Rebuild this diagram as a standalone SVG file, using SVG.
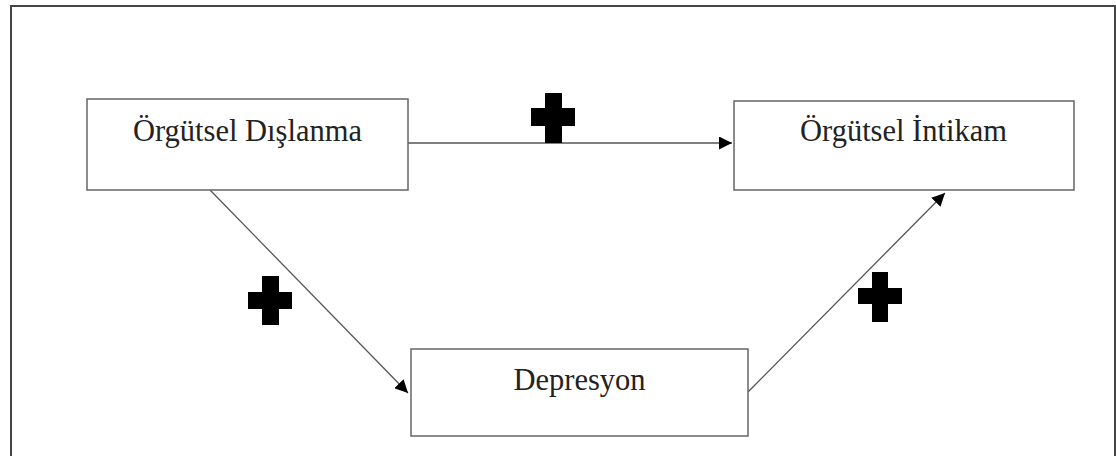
<svg xmlns="http://www.w3.org/2000/svg" width="1116" height="456" viewBox="0 0 1116 456">
<style>
.frame{fill:none;stroke:#444;stroke-width:2}
.box{fill:#fff;stroke:#666;stroke-width:1.5}
.lbl{font-family:"Liberation Serif","Times New Roman",serif;font-size:30.5px;fill:#222;text-anchor:middle}
.edge{stroke:#555;stroke-width:1.3;fill:none;marker-end:url(#ah)}
.plus{fill:#000}
</style>
<defs>
<marker id="ah" viewBox="0 0 10 10" refX="10" refY="5" markerWidth="13" markerHeight="13" markerUnits="userSpaceOnUse" orient="auto">
<path d="M0,0 L10,5 L0,10 Z" fill="#000"/>
</marker>
</defs>
<rect width="1116" height="456" fill="#fff"/>
<rect class="frame" x="11" y="6" width="1104" height="470"/>
<g id="connectors">
<line class="edge" x1="408" y1="143" x2="732" y2="143"/>
<line class="edge" x1="210" y1="190" x2="408" y2="393"/>
<line class="edge" x1="748" y1="392" x2="945" y2="193"/>
</g>
<g id="node-dislanma">
<rect class="box" x="87" y="99" width="321" height="91"/>
<text class="lbl" x="247.5" y="141">Örgütsel Dışlanma</text>
</g>
<g id="node-intikam">
<rect class="box" x="734" y="101" width="340" height="89"/>
<text class="lbl" x="903.5" y="141">Örgütsel İntikam</text>
</g>
<g id="node-depresyon">
<rect class="box" x="411" y="349" width="337" height="87"/>
<text class="lbl" x="579.5" y="390">Depresyon</text>
</g>
<g id="signs">
<path class="plus" d="M545,93 h17 v15 h13 v18 h-13 v17 h-17 v-17 h-14 v-18 h14 Z"/>
<path class="plus" d="M262,276 h17 v16 h13 v17 h-13 v16 h-17 v-16 h-14 v-17 h14 Z"/>
<path class="plus" d="M872,272 h16 v16 h14 v16 h-14 v18 h-16 v-18 h-14 v-16 h14 Z"/>
</g>
</svg>
